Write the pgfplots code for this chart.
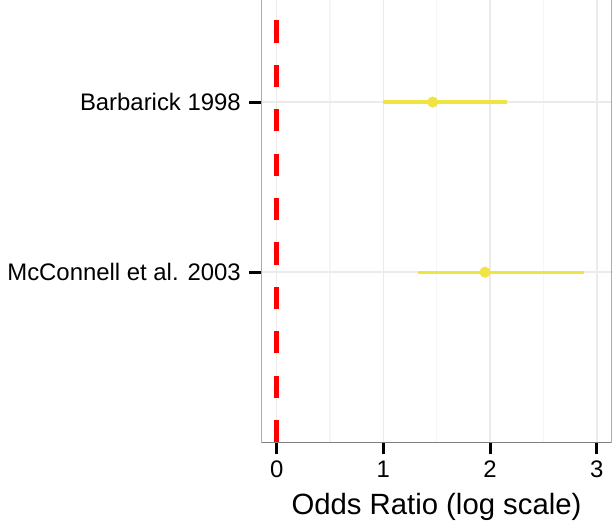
\documentclass[border=0pt]{standalone}
\usepackage{pgfplots}
\pgfplotsset{compat=1.18}
\usepackage{fontspec}
\setmainfont{Liberation Sans}
\definecolor{cbyellow}{HTML}{F0E442}
\definecolor{gridmaj}{HTML}{EBEBEB}
\definecolor{gridmin}{HTML}{F5F5F5}
\definecolor{panelborder}{HTML}{7F7F7F}

\begin{document}
\begin{tikzpicture}
\begin{axis}[
  name=ax, at={(0,0)}, anchor=south west,
  scale only axis, width=350.4pt, height=442.3pt,
  xmin=-0.144, xmax=3.14, ymin=0, ymax=2.6,
  xtick={0,1,2,3}, minor xtick={0.5,1.5,2.5},
  ytick={1,2}, yticklabels={McConnell et al. 2003, Barbarick 1998},
  tick pos=left, tick align=outside,
  major tick length=12pt, minor tick length=0pt,
  tick style={black, line width=3pt},
  axis line style={draw=none},
  grid=both,
  major grid style={gridmaj, line width=1.5pt},
  minor grid style={gridmin, line width=1.2pt},
  /pgf/number format/assume math mode=true,
  ticklabel style={font=\fontsize{23.9}{28}\selectfont},
  xticklabel style={yshift=-3pt},
  yticklabel style={xshift=-5pt},
  xlabel={Odds Ratio (log scale)},
  xlabel style={font=\fontsize{29.3}{34}\selectfont, at={(axis description cs:0.5,0)}, anchor=base, yshift=-71.7pt},
]
% null line
\addplot[red, line width=5.5pt, dash pattern=on 22.2pt off 22.2pt] coordinates {(0,0) (0,2.6)};
% confidence intervals
\addplot[cbyellow, line width=3.3pt] coordinates {(1.000,2) (2.156,2)};
\addplot[cbyellow, line width=3.3pt] coordinates {(1.328,1) (2.884,1)};
% odds ratios
\addplot[only marks, mark=*, mark size=5.3pt, cbyellow, mark options={draw=cbyellow, fill=cbyellow}] coordinates {(1.462,2) (1.953,1)};
\draw[panelborder, line width=1.6pt] (rel axis cs:0,1) -- (rel axis cs:0,0) -- (rel axis cs:1,0) -- (rel axis cs:1,1);
\end{axis}
\pgfresetboundingbox
\path[use as bounding box] (-261.3pt,-79.7pt) rectangle (351.7pt,442.3pt);
\end{tikzpicture}
\end{document}
